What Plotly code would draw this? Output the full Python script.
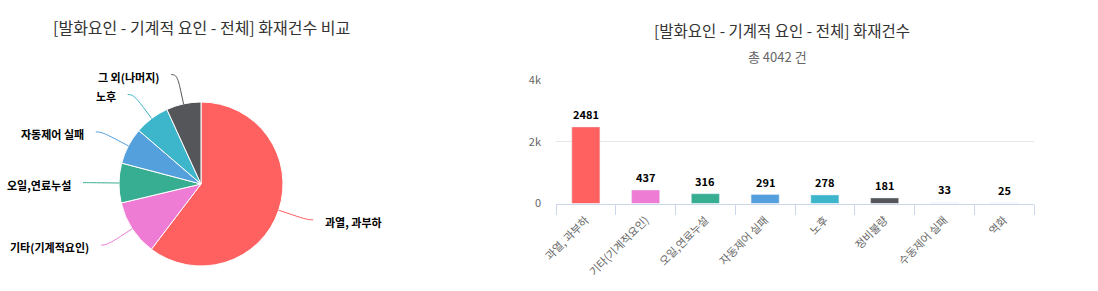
import math
import plotly.graph_objects as go

W, H = 1098, 291
FONT = "Noto Sans CJK KR"

# ---- data ----
pie_labels = ["과열, 과부하", "기타(기계적요인)", "오일,연료누설", "자동제어 실패", "노후", "그 외(나머지)"]
pie_values = [2440, 442, 316, 291, 278, 276]
pie_colors = ["#ff6060", "#ee7cd4", "#37ad91", "#54a0dc", "#3db6cc", "#55565a"]

bar_categories = ["과열, 과부하", "기타(기계적요인)", "오일,연료누설", "자동제어 실패", "노후", "정비불량", "수동제어 실패", "역화"]
bar_values = [2481, 437, 316, 291, 278, 181, 33, 25]
bar_colors = ["#ff6060", "#ee7cd4", "#37ad91", "#54a0dc", "#3db6cc", "#55565a", "#ffffff", "#ffffff"]
y_tickvals = [0, 2000, 4000]
y_ticktext = ["0", "2k", "4k"]

pie_title = "[발화요인 - 기계적 요인 - 전체] 화재건수 비교"
bar_title = "[발화요인 - 기계적 요인 - 전체] 화재건수"
bar_subtitle = "총 %d 건" % sum(bar_values)

# ---- layout geometry (pixels) ----
cx, cy, R = 201, 184, 82
bar_x0, bar_x1 = 556, 1034
bar_y0, bar_y1 = 203.5, 80


def px(x):
    return x / W


def py(y):
    return 1 - y / H


fig = go.Figure()

fig.add_trace(go.Pie(
    labels=pie_labels, values=pie_values, sort=False, direction="clockwise", rotation=0,
    marker=dict(colors=pie_colors, line=dict(color="#ffffff", width=1)),
    textinfo="none", showlegend=False, hoverinfo="label+value", automargin=False,
    domain=dict(x=[px(cx - R), px(cx + R)], y=[py(cy + R), py(cy - R)]),
))

n = len(bar_values)
fig.add_trace(go.Bar(
    x=list(range(n)), y=bar_values, marker=dict(color=bar_colors, line=dict(width=0)),
    width=0.47, showlegend=False, xaxis="x", yaxis="y", hoverinfo="x+y",
))
# invisible copy to carry the boundary tick axis
fig.add_trace(go.Bar(
    x=list(range(n)), y=bar_values, marker=dict(color="rgba(0,0,0,0)"),
    width=0.47, showlegend=False, xaxis="x2", yaxis="y", hoverinfo="skip",
))

annotations = []
shapes = []

# pie labels and connectors
total = sum(pie_values)
cum = 0
for lab, v, col in zip(pie_labels, pie_values, pie_colors):
    th = (cum + v / 2) / total * 2 * math.pi
    cum += v
    dx, dy = math.sin(th), -math.cos(th)
    side = 1 if dx > 0 else -1
    T = (cx + R * dx, cy + R * dy)
    B = (cx + (R + 14) * dx, cy + (R + 14) * dy)
    N = (cx + (R + 30) * dx, cy + (R + 30) * dy)
    L = (N[0] + side * 6, N[1])
    c1 = (L[0] - side * 5, L[1])
    c2 = (2 * B[0] - T[0], 2 * B[1] - T[1])
    path = "M %f,%f C %f,%f %f,%f %f,%f L %f,%f" % (
        px(L[0]), py(L[1]), px(c1[0]), py(c1[1]), px(c2[0]), py(c2[1]),
        px(B[0]), py(B[1]), px(T[0]), py(T[1]))
    shapes.append(dict(type="path", path=path, xref="paper", yref="paper",
                       line=dict(color=col, width=1)))
    annotations.append(dict(
        text="<b>%s</b>" % lab, x=px(L[0] + side * 10), y=py(L[1] + 2),
        xref="paper", yref="paper", xanchor="left" if side > 0 else "right",
        yanchor="middle", showarrow=False, font=dict(family=FONT, size=11, color="#000000"),
    ))

# bar data labels
outline = "-1px -1px 0 #fff, 1px -1px 0 #fff, -1px 1px 0 #fff, 1px 1px 0 #fff"
for i, v in enumerate(bar_values):
    annotations.append(dict(
        text="<b>%d</b>" % v, x=i, y=v, xref="x", yref="y", yshift=13,
        xanchor="center", yanchor="middle", showarrow=False,
        font=dict(family=FONT, size=11, color="#000000", shadow=outline),
    ))

# titles
annotations.append(dict(text=pie_title, x=px(201), y=py(27), xref="paper", yref="paper",
                        xanchor="center", yanchor="middle", showarrow=False,
                        font=dict(family=FONT, size=16, color="#333333")))
annotations.append(dict(text=bar_title, x=px(782), y=py(30), xref="paper", yref="paper",
                        xanchor="center", yanchor="middle", showarrow=False,
                        font=dict(family=FONT, size=15.5, color="#333333")))
annotations.append(dict(text=bar_subtitle, x=px(777), y=py(57), xref="paper", yref="paper",
                        xanchor="center", yanchor="middle", showarrow=False,
                        font=dict(family=FONT, size=13, color="#666666")))

fig.update_layout(
    width=W, height=H, autosize=False,
    margin=dict(l=0, r=0, t=0, b=0, pad=0, autoexpand=False),
    paper_bgcolor="#ffffff", plot_bgcolor="#ffffff",
    font=dict(family=FONT, size=11, color="#666666"),
    bargap=0.5,
    xaxis=dict(
        domain=[px(bar_x0), px(bar_x1)], range=[-0.5, n - 0.5],
        tickvals=list(range(n)), ticktext=bar_categories, tickangle=-45,
        tickfont=dict(family=FONT, size=11, color="#666666"),
        showline=True, linecolor="#ccd6eb", linewidth=1, showgrid=False, zeroline=False,
        ticks="", ticklabelstandoff=5, anchor="y", fixedrange=True, automargin=False,
    ),
    xaxis2=dict(
        domain=[px(bar_x0), px(bar_x1)], range=[-0.5, n - 0.5], overlaying="x", anchor="y",
        tickvals=[i - 0.5 for i in range(n + 1)], ticks="outside", ticklen=10,
        tickcolor="#ccd6eb", tickwidth=1, showticklabels=False, showgrid=False,
        zeroline=False, showline=False, side="bottom", fixedrange=True, automargin=False,
    ),
    yaxis=dict(
        domain=[py(bar_y0), py(bar_y1)], range=[0, 4000],
        tickvals=y_tickvals, ticktext=y_ticktext,
        tickfont=dict(family=FONT, size=11, color="#666666"),
        showgrid=True, gridcolor="#e6e6e6", gridwidth=1, zeroline=False,
        showline=False, ticks="", ticklabelstandoff=14, anchor="x", fixedrange=True,
        automargin=False,
    ),
    annotations=annotations, shapes=shapes,
)

fig.write_html("out.html")
